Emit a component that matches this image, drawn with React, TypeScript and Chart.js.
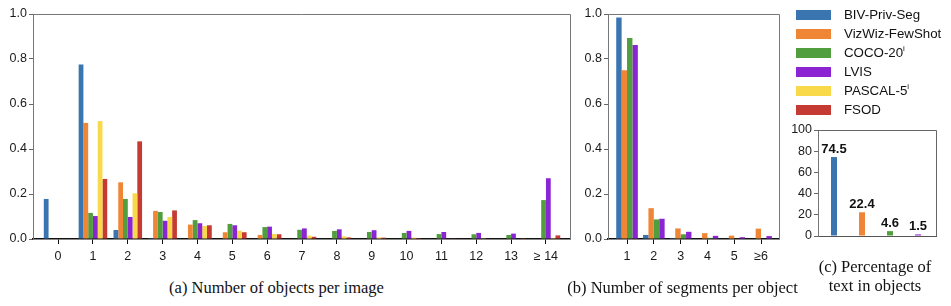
import React, { useEffect, useRef } from 'react';
import { Chart, registerables } from 'chart.js';

Chart.register(...registerables);

// ---- data ----
const seriesNames = ['BIV-Priv-Seg', 'VizWiz-FewShot', 'COCO-20', 'LVIS', 'PASCAL-5', 'FSOD'];
const seriesSup = ['', '', 'i', '', 'i', ''];
const seriesColors = ['#3a75b0', '#ef8636', '#519e3e', '#8b24d3', '#f9d94a', '#c53a32'];

const objCats = ['0', '1', '2', '3', '4', '5', '6', '7', '8', '9', '10', '11', '12', '13', '≥ 14'];
const objBIV = [0.178, 0.776, 0.04, 0.004, 0, 0, 0, 0, 0, 0, 0, 0, 0, 0, 0];
const objVizWiz = [0, 0.516, 0.252, 0.125, 0.064, 0.03, 0.018, 0.002, 0, 0, 0, 0, 0, 0, 0];
const objCOCO = [0, 0.116, 0.178, 0.12, 0.084, 0.067, 0.053, 0.041, 0.036, 0.031, 0.027, 0.022, 0.021, 0.018, 0.173];
const objLVIS = [0, 0.102, 0.098, 0.081, 0.07, 0.061, 0.055, 0.047, 0.043, 0.039, 0.036, 0.031, 0.027, 0.024, 0.27];
const objPASCAL = [0, 0.524, 0.203, 0.098, 0.058, 0.037, 0.022, 0.015, 0.012, 0.007, 0.006, 0.002, 0.001, 0, 0.004];
const objFSOD = [0, 0.267, 0.434, 0.127, 0.061, 0.03, 0.021, 0.01, 0.007, 0.006, 0.004, 0.003, 0.002, 0.001, 0.016];

const segCats = ['1', '2', '3', '4', '5', '≥6'];
const segBIV = [0.985, 0.018, 0.004, 0, 0, 0];
const segVizWiz = [0.75, 0.137, 0.047, 0.026, 0.015, 0.046];
const segCOCO = [0.893, 0.087, 0.021, 0.005, 0.002, 0];
const segLVIS = [0.862, 0.09, 0.032, 0.014, 0.008, 0.013];

const textCats = ['BIV-Priv-Seg', 'VizWiz-FewShot', 'COCO-20i', 'LVIS'];
const textPct = [74.5, 22.4, 4.6, 1.5];

const yTicksFrac = [0, 0.2, 0.4, 0.6, 0.8, 1.0];
const yTicksPct = [0, 20, 40, 60, 80, 100];

const SANS = '"Liberation Sans", Arial, sans-serif';
const SERIF = '"Liberation Serif", "Times New Roman", serif';

const framePlugin = (color: string) => ({
  id: 'frame',
  afterDraw(chart: any) {
    const { ctx, chartArea } = chart;
    ctx.save();
    ctx.strokeStyle = color;
    ctx.lineWidth = 1;
    ctx.beginPath();
    ctx.moveTo(chartArea.left, chartArea.top + 0.5);
    ctx.lineTo(chartArea.right + 0.5, chartArea.top + 0.5);
    ctx.lineTo(chartArea.right + 0.5, chartArea.bottom);
    ctx.stroke();
    ctx.restore();
  },
});

function makeYScale(ticks: number[], fmt: (v: number) => string, width: number) {
  return {
    type: 'linear',
    min: ticks[0],
    max: ticks[ticks.length - 1],
    afterBuildTicks: (axis: any) => {
      axis.ticks = ticks.map((v) => ({ value: v }));
    },
    afterFit: (axis: any) => {
      axis.width = width;
    },
    ticks: {
      callback: (v: number) => fmt(v),
      color: '#1a1a1a',
      font: { family: SANS, size: 12.5 },
      padding: 2,
    },
    grid: { drawOnChartArea: false, drawTicks: true, tickLength: 4, tickColor: '#666' },
    border: { display: true, color: '#777', width: 1 },
  };
}

function makeXScale(cats: string[], min: number, max: number, height: number, showTicks = true) {
  return {
    type: 'linear',
    min,
    max,
    offset: false,
    afterBuildTicks: (axis: any) => {
      axis.ticks = cats.map((_, i) => ({ value: i }));
    },
    afterFit: (axis: any) => {
      axis.height = height;
    },
    ticks: {
      display: showTicks,
      callback: (v: number) => cats[v] ?? '',
      color: '#1a1a1a',
      font: { family: SANS, size: 12.5 },
      padding: 5,
      maxRotation: 0,
      autoSkip: false,
    },
    grid: { offset: false, drawOnChartArea: false, drawTicks: showTicks, tickLength: 5, tickColor: '#111' },
    border: { display: true, color: showTicks ? '#111' : '#555', width: showTicks ? 1.5 : 1 },
  };
}

function useChart(ref: React.RefObject<HTMLCanvasElement>, build: () => any) {
  useEffect(() => {
    if (!ref.current) return;
    const chart = new Chart(ref.current, build());
    return () => chart.destroy();
  }, []);
}

export default function App() {
  const refA = useRef<HTMLCanvasElement>(null);
  const refB = useRef<HTMLCanvasElement>(null);
  const refC = useRef<HTMLCanvasElement>(null);

  useChart(refA, () => {
    const series = [objBIV, objVizWiz, objCOCO, objLVIS, objPASCAL, objFSOD];
    return {
      type: 'bar',
      data: {
        labels: objCats.map((_, i) => i),
        datasets: series.map((d, k) => ({
          label: seriesNames[k],
          data: d,
          backgroundColor: seriesColors[k],
          borderWidth: 0,
          categoryPercentage: 0.82,
          barPercentage: 1,
        })),
      },
      options: {
        responsive: false,
        animation: false,
        layout: { padding: { top: 14, right: 5, left: 0, bottom: 0 } },
        plugins: { legend: { display: false }, tooltip: { enabled: false } },
        scales: {
          x: makeXScale(objCats, -0.72, 14.69, 31),
          y: makeYScale(yTicksFrac, (v) => v.toFixed(1), 33),
        },
      },
      plugins: [framePlugin('#777')],
    };
  });

  useChart(refB, () => {
    const series = [segBIV, segVizWiz, segCOCO, segLVIS];
    return {
      type: 'bar',
      data: {
        labels: segCats.map((_, i) => i),
        datasets: series.map((d, k) => ({
          label: seriesNames[k],
          data: d,
          backgroundColor: seriesColors[k],
          borderWidth: 0,
          categoryPercentage: 0.806,
          barPercentage: 1,
        })),
      },
      options: {
        responsive: false,
        animation: false,
        layout: { padding: { top: 14, right: 6, left: 0, bottom: 0 } },
        plugins: { legend: { display: false }, tooltip: { enabled: false } },
        scales: {
          x: makeXScale(segCats, -0.71, 5.67, 31),
          y: makeYScale(yTicksFrac, (v) => v.toFixed(1), 33),
        },
      },
      plugins: [framePlugin('#777')],
    };
  });

  useChart(refC, () => ({
    type: 'bar',
    data: {
      labels: textCats.map((_, i) => i),
      datasets: [
        {
          label: 'Percentage of text in objects',
          data: textPct,
          backgroundColor: seriesColors.slice(0, 4),
          borderWidth: 0,
          categoryPercentage: 0.214,
          barPercentage: 1,
        },
      ],
    },
    options: {
      responsive: false,
      animation: false,
      layout: { padding: { top: 130, right: 15, left: 0, bottom: 0 } },
      plugins: { legend: { display: false }, tooltip: { enabled: false } },
      scales: {
        x: makeXScale(textCats, -0.57, 3.64, 14, false),
        y: makeYScale(yTicksPct, (v) => String(v), 33),
      },
    },
    plugins: [
      framePlugin('#666'),
      {
        id: 'valueLabels',
        afterDatasetsDraw(chart: any) {
          const { ctx } = chart;
          const meta = chart.getDatasetMeta(0);
          ctx.save();
          ctx.font = `bold 13px ${SANS}`;
          ctx.fillStyle = '#111';
          ctx.textAlign = 'center';
          ctx.textBaseline = 'bottom';
          meta.data.forEach((bar: any, i: number) => {
            ctx.fillText(String(textPct[i]), bar.x, bar.y - 1);
          });
          ctx.restore();
        },
      },
    ],
  }));

  const legendRows = [14.5, 33.5, 52.5, 71.5, 90.5, 109.5];

  return (
    <div style={{ position: 'absolute', left: 0, top: 0, width: 951, height: 306, background: '#fff', overflow: 'hidden' }}>
      <canvas ref={refA} width={575} height={270} style={{ position: 'absolute', left: 0, top: 0 }} />
      <canvas ref={refB} width={210} height={270} style={{ position: 'absolute', left: 575, top: 0 }} />
      <canvas ref={refC} width={166} height={250} style={{ position: 'absolute', left: 785, top: 0 }} />

      {seriesNames.map((name, k) => (
        <div key={name}>
          <div
            style={{
              position: 'absolute',
              left: 796,
              top: legendRows[k] - 5,
              width: 35,
              height: 10,
              background: seriesColors[k],
            }}
          />
          <div
            style={{
              position: 'absolute',
              left: 844,
              top: legendRows[k] - 8,
              height: 16,
              lineHeight: '16px',
              fontFamily: SANS,
              fontSize: 13.3,
              color: '#111',
              whiteSpace: 'nowrap',
            }}
          >
            {name}
            {seriesSup[k] ? (
              <sup style={{ fontSize: 8, verticalAlign: 'top', lineHeight: '10px', position: 'relative', top: -1 }}>{seriesSup[k]}</sup>
            ) : null}
          </div>
        </div>
      ))}

      <div
        style={{
          position: 'absolute',
          left: 276.5 - 160,
          width: 320,
          top: 277.5,
          lineHeight: '19px',
          textAlign: 'center',
          fontFamily: SERIF,
          fontSize: 16.5,
          color: '#111',
        }}
      >
        (a) Number of objects per image
      </div>
      <div
        style={{
          position: 'absolute',
          left: 682.5 - 140,
          width: 280,
          top: 277.5,
          lineHeight: '19px',
          textAlign: 'center',
          fontFamily: SERIF,
          fontSize: 16.5,
          color: '#111',
          whiteSpace: 'nowrap',
        }}
      >
        (b) Number of segments per object
      </div>
      <div
        style={{
          position: 'absolute',
          left: 875 - 70,
          width: 140,
          top: 256.5,
          lineHeight: '19px',
          textAlign: 'center',
          fontFamily: SERIF,
          fontSize: 16.5,
          color: '#111',
          whiteSpace: 'nowrap',
        }}
      >
        (c) Percentage of
        <br />
        text in objects
      </div>
    </div>
  );
}
